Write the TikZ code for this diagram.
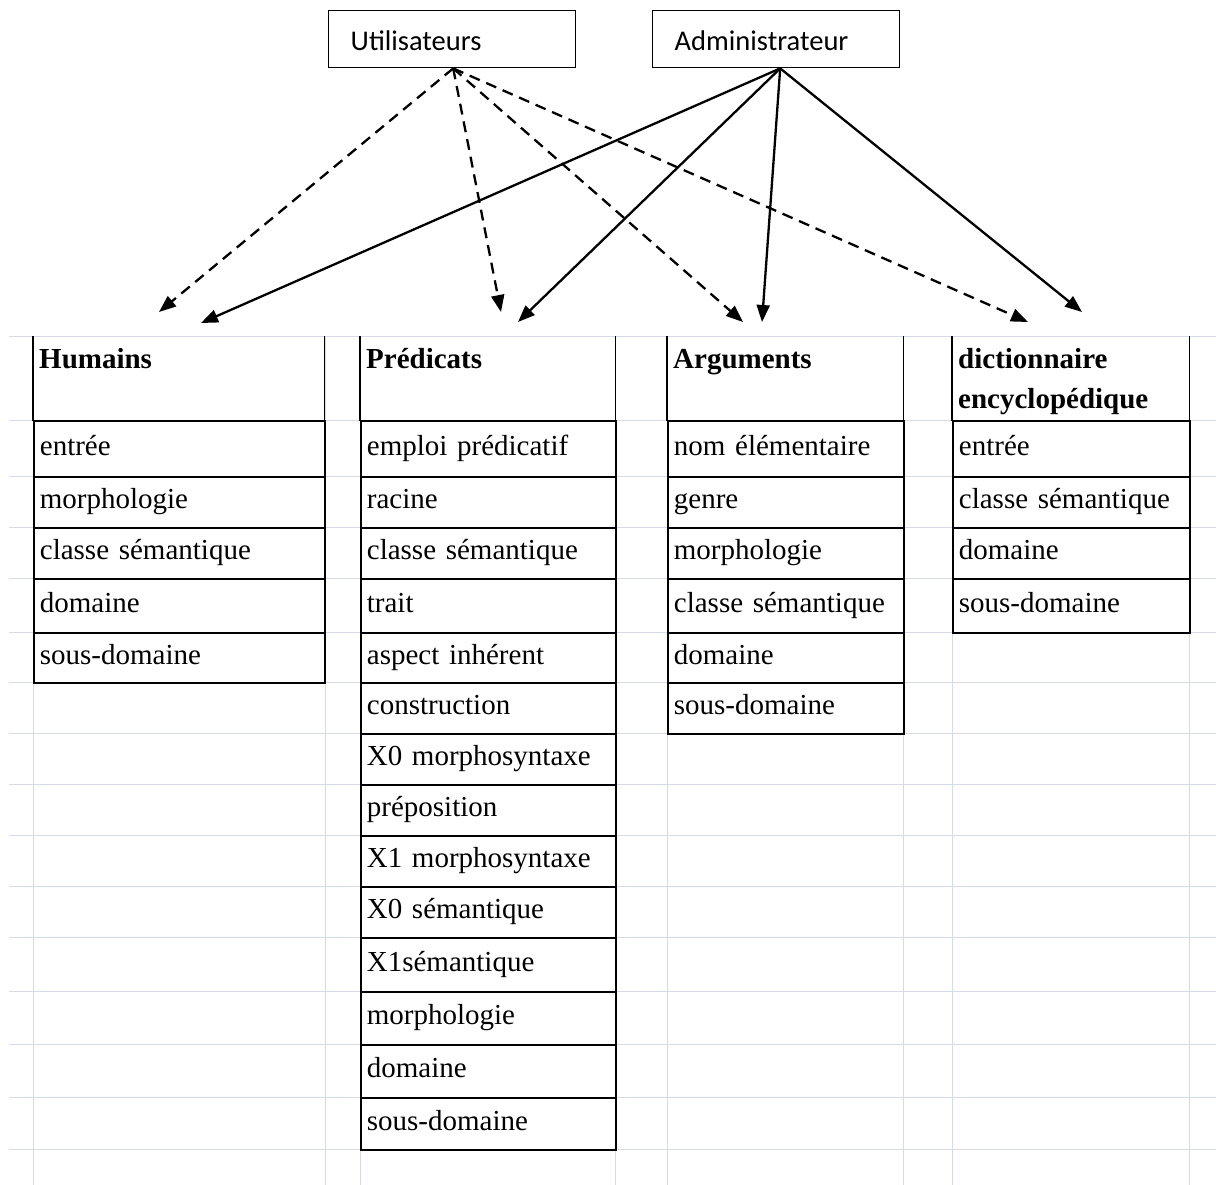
\documentclass[tikz,border=0pt]{standalone}
\usepackage{fontspec}
\setmainfont{Liberation Serif}
\newfontfamily\calib{Carlito}
\usetikzlibrary{arrows.meta}
\definecolor{gridc}{RGB}{214,218,230}
\begin{document}
\begin{tikzpicture}[x=1pt,y=-1pt,
  gridline/.style={draw=gridc,line width=1pt},
  border/.style={draw=black,line width=1.8pt},
  topbox/.style={draw=black,line width=1.4pt,anchor=north west,minimum width=247pt,minimum height=57pt,inner xsep=22pt,inner ysep=0pt,text width=203pt,align=left,text height=36pt,text depth=14pt,font=\calib\fontsize{28.5}{32}\selectfont},
  cellbox/.style={draw=black,line width=1.8pt,anchor=north west,inner xsep=6pt,inner ysep=0pt,text height=20pt,text depth=7pt,align=left,font=\fontsize{29}{34}\selectfont},
  headbox/.style={anchor=north west,minimum height=84pt,inner sep=0pt},
  headtext/.style={anchor=base west,inner sep=0pt,font=\bfseries\fontsize{29}{34}\selectfont},
  colA/.style={minimum width=291pt,text width=279pt},
  colB/.style={minimum width=255pt,text width=243pt},
  colC/.style={minimum width=236pt,text width=224pt},
  colD/.style={minimum width=237pt,text width=225pt},
  uarrow/.style={line width=2.3pt,dash pattern=on 11pt off 7pt,-{Triangle[length=17pt,width=13pt]}},
  aarrow/.style={line width=2.3pt,-{Triangle[length=17pt,width=13pt]}},
]
\fill[white] (0,0) rectangle (1216,1185);
\useasboundingbox (0,0) rectangle (1216,1185);

% spreadsheet grid
\foreach \yy in {336,420,476,527,578,632,682,733,784,835,886,937,991,1044,1097,1149}
  \draw[gridline] (9,\yy) -- (1216,\yy);
\foreach \xx in {33,325,360,615,667,903,952,1189}
  \draw[gridline] (\xx,336) -- (\xx,1185);

% top boxes
\node[topbox] (ubox) at (328,10) {Utilisateurs};
\node[topbox] (abox) at (652,10) {Administrateur};

% Humains
\node[headbox,colA] (hum) at (33,336) {};
\draw[border] (hum.north west) -- (hum.south west) -- (hum.south east) -- (hum.north east);
\node[headtext] (humt) at ([shift={(6,32)}]hum.north west) {Humains};
\node[cellbox,colA,minimum height=56pt] (hum1) at (33,420) {entrée};
\node[cellbox,colA,minimum height=51pt] (hum2) at (33,476) {morphologie};
\node[cellbox,colA,minimum height=51pt] (hum3) at (33,527) {classe sémantique};
\node[cellbox,colA,minimum height=54pt] (hum4) at (33,578) {domaine};
\node[cellbox,colA,minimum height=50pt] (hum5) at (33,632) {sous-domaine};

% Predicats
\node[headbox,colB] (pre) at (360,336) {};
\draw[border] (pre.north west) -- (pre.south west) -- (pre.south east) -- (pre.north east);
\node[headtext] (pret) at ([shift={(6,32)}]pre.north west) {Prédicats};
\node[cellbox,colB,minimum height=56pt] (pre1) at (360,420) {emploi prédicatif};
\node[cellbox,colB,minimum height=51pt] (pre2) at (360,476) {racine};
\node[cellbox,colB,minimum height=51pt] (pre3) at (360,527) {classe sémantique};
\node[cellbox,colB,minimum height=54pt] (pre4) at (360,578) {trait};
\node[cellbox,colB,minimum height=50pt] (pre5) at (360,632) {aspect inhérent};
\node[cellbox,colB,minimum height=51pt] (pre6) at (360,682) {construction};
\node[cellbox,colB,minimum height=51pt] (pre7) at (360,733) {X0 morphosyntaxe};
\node[cellbox,colB,minimum height=51pt] (pre8) at (360,784) {préposition};
\node[cellbox,colB,minimum height=51pt] (pre9) at (360,835) {X1 morphosyntaxe};
\node[cellbox,colB,minimum height=51pt] (pre10) at (360,886) {X0 sémantique};
\node[cellbox,colB,minimum height=54pt] (pre11) at (360,937) {X1sémantique};
\node[cellbox,colB,minimum height=53pt] (pre12) at (360,991) {morphologie};
\node[cellbox,colB,minimum height=53pt] (pre13) at (360,1044) {domaine};
\node[cellbox,colB,minimum height=52pt] (pre14) at (360,1097) {sous-domaine};

% Arguments
\node[headbox,colC] (arg) at (667,336) {};
\draw[border] (arg.north west) -- (arg.south west) -- (arg.south east) -- (arg.north east);
\node[headtext] (argt) at ([shift={(6,32)}]arg.north west) {Arguments};
\node[cellbox,colC,minimum height=56pt] (arg1) at (667,420) {nom élémentaire};
\node[cellbox,colC,minimum height=51pt] (arg2) at (667,476) {genre};
\node[cellbox,colC,minimum height=51pt] (arg3) at (667,527) {morphologie};
\node[cellbox,colC,minimum height=54pt] (arg4) at (667,578) {classe sémantique};
\node[cellbox,colC,minimum height=50pt] (arg5) at (667,632) {domaine};
\node[cellbox,colC,minimum height=51pt] (arg6) at (667,682) {sous-domaine};

% dictionnaire encyclopedique
\node[headbox,colD] (dic) at (952,336) {};
\draw[border] (dic.north west) -- (dic.south west) -- (dic.south east) -- (dic.north east);
\node[headtext] (dicta) at ([shift={(6,32)}]dic.north west) {dictionnaire};
\node[headtext] (dictb) at ([shift={(6,72)}]dic.north west) {encyclopédique};
\node[cellbox,colD,minimum height=56pt] (dic1) at (952,420) {entrée};
\node[cellbox,colD,minimum height=51pt] (dic2) at (952,476) {classe sémantique};
\node[cellbox,colD,minimum height=51pt] (dic3) at (952,527) {domaine};
\node[cellbox,colD,minimum height=54pt] (dic4) at (952,578) {sous-domaine};

% arrow end points
\coordinate (du1) at (159,312);
\coordinate (au1) at (201,323);
\coordinate (du2) at (501,312);
\coordinate (au2) at (518,322);
\coordinate (du3) at (743,322);
\coordinate (au3) at (762,322);
\coordinate (du4) at (1028,322);
\coordinate (au4) at (1082,312);

% connectors
\draw[uarrow] ([xshift=1pt]ubox.south) -- (du1);
\draw[uarrow] ([xshift=1pt]ubox.south) -- (du2);
\draw[uarrow] ([xshift=1pt]ubox.south) -- (du3);
\draw[uarrow] ([xshift=1pt]ubox.south) -- (du4);
\draw[aarrow] ([xshift=4pt]abox.south) -- (au1);
\draw[aarrow] ([xshift=4pt]abox.south) -- (au2);
\draw[aarrow] ([xshift=4pt]abox.south) -- (au3);
\draw[aarrow] ([xshift=4pt]abox.south) -- (au4);
\end{tikzpicture}
\end{document}
